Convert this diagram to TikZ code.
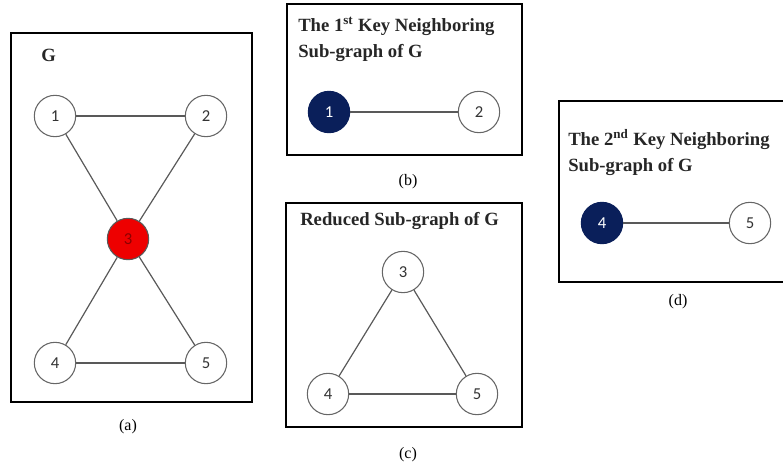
\documentclass[tikz,border=0pt]{standalone}
\usepackage{fontspec}
\setmainfont{Liberation Serif}
\newfontfamily\numfont{Carlito}
\usepackage{xcolor}
\definecolor{keynavy}{RGB}{10,31,90}
\definecolor{hubred}{RGB}{238,0,0}
\definecolor{hubtext}{RGB}{140,0,0}

\begin{document}
\begin{tikzpicture}[x=0.75pt,y=0.75pt,yscale=-1,xscale=1,
    vert/.style={circle, draw=black!60, line width=0.8pt, fill=white, minimum size=31pt, inner sep=0pt, font=\numfont\fontsize{12.5}{12.5}\selectfont, text=black!80},
    hub/.style={vert, fill=hubred, draw=black!65, text=hubtext},
    keyvert/.style={vert, fill=keynavy, draw=keynavy, text=white},
    edge/.style={draw=black!65, line width=0.9pt},
    frame/.style={line width=1.6pt},
    title/.style={anchor=base west, inner sep=0pt, align=left, font=\bfseries\fontsize{14}{19.5}\selectfont, text=black!85},
    caption/.style={inner sep=0pt, font=\fontsize{12}{12}\selectfont}]
    %set diagram to 783 x 468
    \useasboundingbox (0,0) rectangle (783,468);
    \clip (0,0) rectangle (783,468);

    %Shape: Rectangle (a)
    \draw [frame] (11,33) rectangle (252,402);
    % Text Node
    \draw (41,61) node [title] (gA) {G};
    \node [vert] (a1) at (55,116) {1};
    \node [vert] (a2) at (206,116) {2};
    \node [hub]  (a3) at (128,239) {3};
    \node [vert] (a4) at (55,363) {4};
    \node [vert] (a5) at (206,363) {5};
    \draw [edge] (a1) -- (a2);
    \draw [edge] (a1) -- (a3);
    \draw [edge] (a2) -- (a3);
    \draw [edge] (a3) -- (a4);
    \draw [edge] (a3) -- (a5);
    \draw [edge] (a4) -- (a5);
    \node [caption] (capA) at (128,427) {(a)};

    %Shape: Rectangle (b)
    \draw [frame] (287,4) rectangle (522,155);
    % Text Node
    \draw (298,57) node [title] (tB) {The 1\textsuperscript{st} Key Neighboring\\Sub-graph of G};
    \node [keyvert] (b1) at (329,112) {1};
    \node [vert]    (b2) at (479,112) {2};
    \draw [edge] (b1) -- (b2);
    \node [caption] (capB) at (408,182) {(b)};

    %Shape: Rectangle (c)
    \draw [frame] (286,203) rectangle (522,427);
    % Text Node
    \draw (300,225) node [title] (tC) {Reduced Sub-graph of G};
    \node [vert] (c3) at (403,272) {3};
    \node [vert] (c4) at (328,394) {4};
    \node [vert] (c5) at (477,394) {5};
    \draw [edge] (c3) -- (c4);
    \draw [edge] (c3) -- (c5);
    \draw [edge] (c4) -- (c5);
    \node [caption] (capC) at (408,455) {(c)};

    %Shape: Rectangle (d)
    \draw [frame] (559,101) rectangle (795,282);
    % Text Node
    \draw (568,171) node [title] (tD) {The 2\textsuperscript{nd} Key Neighboring\\Sub-graph of G};
    \node [keyvert] (d4) at (602,223) {4};
    \node [vert]    (d5) at (750,223) {5};
    \draw [edge] (d4) -- (d5);
    \node [caption] (capD) at (678,302) {(d)};
\end{tikzpicture}
\end{document}
